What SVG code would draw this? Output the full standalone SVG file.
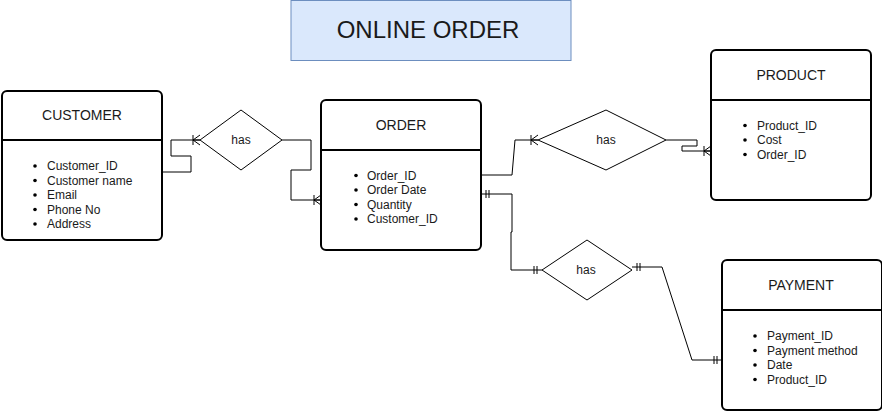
<svg xmlns="http://www.w3.org/2000/svg" width="882" height="412" viewBox="0 0 882 412">
<style>
text{font-family:"Liberation Sans",Arial,sans-serif;fill:#1a1a1a}
.box{fill:#fff;stroke:#000;stroke-width:2}
.div{stroke:#000;stroke-width:2}
.hd{font-size:14px;text-anchor:middle}
.it{font-size:12px}
.dot{fill:#000}
.dia{fill:#fff;stroke:#000;stroke-width:1}
.lbl{font-size:12px;text-anchor:middle}
.c{fill:none;stroke:#000;stroke-width:1}
</style>
<defs>
<marker id="many" markerUnits="userSpaceOnUse" viewBox="-10 -6 11 12" refX="0" refY="0" markerWidth="11" markerHeight="12" orient="auto-start-reverse">
<path d="M-7,-5V5M-7,0L0,-5M-7,0L0,5M-7,0H0" fill="none" stroke="#000" stroke-width="1"/>
</marker>
<marker id="one" markerUnits="userSpaceOnUse" viewBox="-10 -6 11 12" refX="0" refY="0" markerWidth="11" markerHeight="12" orient="auto-start-reverse">
<path d="M-8,-4V4M-5,-4V4" fill="none" stroke="#000" stroke-width="1"/>
</marker>
</defs>
<rect width="882" height="412" fill="#fff"/>
<g id="title">
<rect x="291" y="0.5" width="280" height="60" fill="#dae8fc" stroke="#6c8ebf" stroke-width="1"/>
<text x="428" y="38" font-size="24" text-anchor="middle">ONLINE ORDER</text>
</g>
<g id="connectors">
<path class="c" d="M162,172H191V156H171V140H200" marker-end="url(#many)"/>
<path class="c" d="M282,140H311V170H291V200H321" marker-end="url(#many)"/>
<path class="c" d="M481,175H512L515,140H538" marker-end="url(#many)"/>
<path class="c" d="M666,140H697V146H682V151H711" marker-end="url(#many)"/>
<path class="c" d="M481,194H512V232H511V270H542" marker-start="url(#one)" marker-end="url(#one)"/>
<path class="c" d="M632,267H662L692,360H722" marker-start="url(#one)" marker-end="url(#one)"/>
</g>
<g id="customer">
<rect class="box" x="2" y="91" width="160" height="149" rx="5"/>
<line class="div" x1="2" y1="140" x2="162" y2="140"/>
<text class="hd" x="82" y="120">CUSTOMER</text>
<circle class="dot" cx="35" cy="166" r="1.8"/><text class="it" x="47" y="170">Customer_ID</text>
<circle class="dot" cx="35" cy="180.5" r="1.8"/><text class="it" x="47" y="184.5">Customer name</text>
<circle class="dot" cx="35" cy="195" r="1.8"/><text class="it" x="47" y="199">Email</text>
<circle class="dot" cx="35" cy="209.5" r="1.8"/><text class="it" x="47" y="213.5">Phone No</text>
<circle class="dot" cx="35" cy="224" r="1.8"/><text class="it" x="47" y="228">Address</text>
</g>
<g id="has1">
<polygon class="dia" points="200,140 241,110 282,140 241,170"/>
<text class="lbl" x="241" y="144">has</text>
</g>
<g id="order">
<rect class="box" x="321" y="100" width="160" height="150" rx="5"/>
<line class="div" x1="321" y1="150" x2="481" y2="150"/>
<text class="hd" x="401" y="130">ORDER</text>
<circle class="dot" cx="356" cy="175.5" r="1.8"/><text class="it" x="367" y="179.5">Order_ID</text>
<circle class="dot" cx="356" cy="190" r="1.8"/><text class="it" x="367" y="194">Order Date</text>
<circle class="dot" cx="356" cy="204.5" r="1.8"/><text class="it" x="367" y="208.5">Quantity</text>
<circle class="dot" cx="356" cy="219" r="1.8"/><text class="it" x="367" y="223">Customer_ID</text>
</g>
<g id="has2">
<polygon class="dia" points="538,140 606,110 666,140 606,170"/>
<text class="lbl" x="606" y="144">has</text>
</g>
<g id="product">
<rect class="box" x="711" y="50" width="160" height="150" rx="5"/>
<line class="div" x1="711" y1="100" x2="871" y2="100"/>
<text class="hd" x="791" y="80">PRODUCT</text>
<circle class="dot" cx="745" cy="125.5" r="1.8"/><text class="it" x="757" y="129.5">Product_ID</text>
<circle class="dot" cx="745" cy="140" r="1.8"/><text class="it" x="757" y="144">Cost</text>
<circle class="dot" cx="745" cy="154.5" r="1.8"/><text class="it" x="757" y="158.5">Order_ID</text>
</g>
<g id="has3">
<polygon class="dia" points="542,270 587,240 632,270 587,300"/>
<text class="lbl" x="586" y="274">has</text>
</g>
<g id="payment">
<rect class="box" x="722" y="260" width="160" height="150" rx="5"/>
<line class="div" x1="722" y1="310" x2="882" y2="310"/>
<text class="hd" x="801" y="290">PAYMENT</text>
<circle class="dot" cx="755" cy="336" r="1.8"/><text class="it" x="767" y="340">Payment_ID</text>
<circle class="dot" cx="755" cy="350.5" r="1.8"/><text class="it" x="767" y="354.5">Payment method</text>
<circle class="dot" cx="755" cy="365" r="1.8"/><text class="it" x="767" y="369">Date</text>
<circle class="dot" cx="755" cy="379.5" r="1.8"/><text class="it" x="767" y="383.5">Product_ID</text>
</g>
</svg>
